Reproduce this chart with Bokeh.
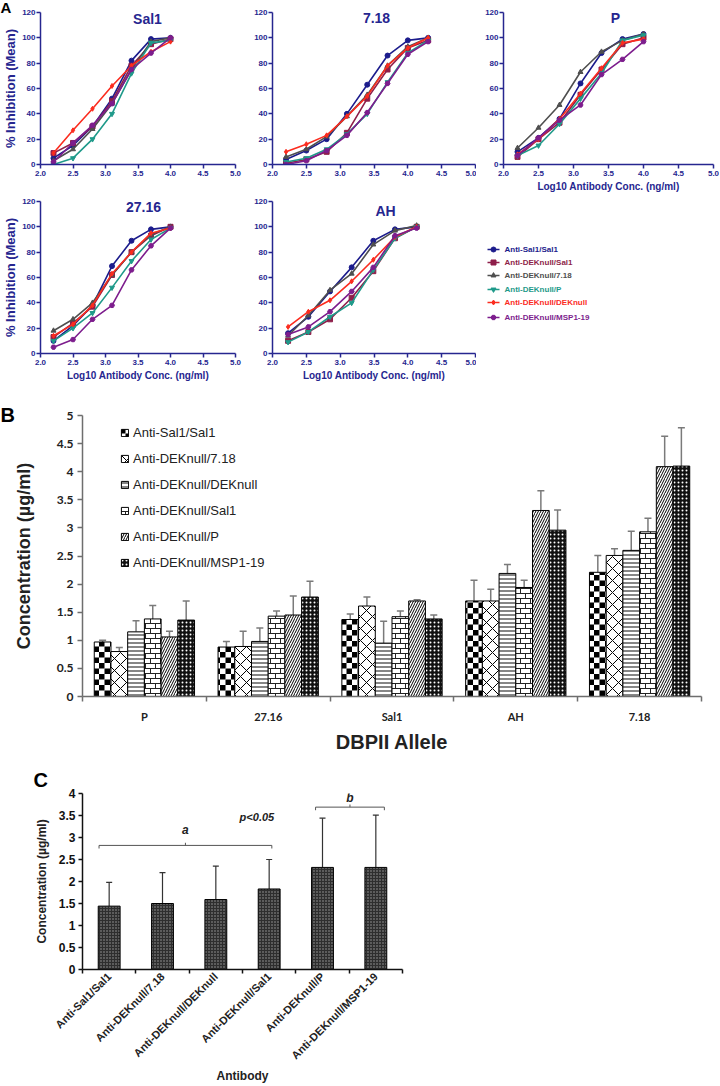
import math
from bokeh.plotting import figure
from bokeh.layouts import column, row
from bokeh.models import (LegendItem, Legend, Label, Title, LinearAxis, CategoricalAxis, FixedTicker,
                          NumeralTickFormatter, Whisker, TeeHead, ColumnDataSource, FactorRange,
                          Range1d, CanvasTexture)
from bokeh.transform import dodge
from bokeh.core.properties import value
from bokeh.embed import file_html
from bokeh.resources import INLINE

# ================= Panel A data =================
a_series = ["Anti-Sal1/Sal1", "Anti-DEKnull/Sal1", "Anti-DEKnull/7.18",
            "Anti-DEKnull/P", "Anti-DEKnull/DEKnull", "Anti-DEKnull/MSP1-19"]
log_dose = [2.2, 2.5, 2.8, 3.1, 3.4, 3.7, 4.0]
log_dose_718 = [2.2, 2.5, 2.8, 3.1, 3.4, 3.7, 4.0, 4.3]
log_dose_ah = [2.23, 2.53, 2.85, 3.17, 3.49, 3.81, 4.13]

inhibition_sal1 = [
    [5, 15, 30, 52, 82, 99, 100],
    [9, 17, 30, 50, 78, 95, 99],
    [3, 12, 28, 48, 75, 97, 100],
    [0, 5, 20, 40, 72, 96, 98],
    [9, 27, 44, 62, 78, 89, 97],
    [2, 17, 31, 48, 75, 88, 100],
]
inhibition_718 = [
    [4, 11, 20, 40, 63, 86, 98, 100],
    [1, 4, 10, 25, 52, 75, 92, 98],
    [6, 12, 22, 38, 55, 78, 93, 100],
    [2, 5, 12, 24, 40, 65, 88, 98],
    [10, 16, 23, 38, 54, 78, 92, 100],
    [0, 3, 11, 23, 41, 64, 87, 97],
]
inhibition_p = [
    [10, 21, 36, 64, 88, 99, 103],
    [6, 20, 33, 55, 75, 95, 100],
    [13, 29, 47, 73, 89, 98, 103],
    [7, 15, 32, 52, 72, 98, 102],
    [8, 20, 36, 56, 76, 96, 99],
    [7, 21, 35, 47, 71, 83, 97],
]
inhibition_2716 = [
    [10, 22, 38, 69, 89, 98, 100],
    [13, 24, 37, 62, 80, 93, 100],
    [18, 27, 40, 62, 80, 94, 100],
    [10, 20, 32, 52, 73, 90, 99],
    [14, 23, 38, 63, 80, 95, 99],
    [5, 11, 27, 38, 66, 85, 99],
]
inhibition_ah = [
    [16, 29, 49, 68, 89, 98, 100],
    [10, 17, 27, 44, 65, 91, 100],
    [14, 30, 50, 63, 86, 97, 101],
    [9, 17, 29, 40, 66, 91, 100],
    [21, 33, 42, 57, 74, 92, 100],
    [15, 21, 33, 49, 68, 93, 99],
]
a_x_ticks = [2.0, 2.5, 3.0, 3.5, 4.0, 4.5, 5.0]
a_y_ticks = [0, 20, 40, 60, 80, 100, 120]

# ================= Panel B data =================
alleles = ["P", "27.16", "Sal1", "AH", "7.18"]
b_series = ["Anti-Sal1/Sal1", "Anti-DEKnull/7.18", "Anti-DEKnull/DEKnull",
            "Anti-DEKnull/Sal1", "Anti-DEKnull/P", "Anti-DEKnull/MSP1-19"]
conc_sal1_sal1 = [0.97, 0.88, 1.37, 1.70, 2.21]
conc_dek_718 = [0.80, 0.89, 1.61, 1.70, 2.51]
conc_dek_dek = [1.15, 0.98, 0.95, 2.19, 2.60]
conc_dek_sal1 = [1.38, 1.43, 1.42, 1.94, 2.93]
conc_dek_p = [1.06, 1.45, 1.70, 3.31, 4.09]
conc_dek_msp = [1.36, 1.77, 1.38, 2.96, 4.10]
sd_sal1_sal1 = [0.03, 0.10, 0.10, 0.37, 0.30]
sd_dek_718 = [0.07, 0.27, 0.16, 0.21, 0.12]
sd_dek_dek = [0.20, 0.24, 0.39, 0.16, 0.34]
sd_dek_sal1 = [0.24, 0.09, 0.10, 0.13, 0.24]
sd_dek_p = [0.10, 0.34, 0.02, 0.35, 0.54]
sd_dek_msp = [0.34, 0.28, 0.07, 0.36, 0.68]
b_y_ticks = [0, 0.5, 1, 1.5, 2, 2.5, 3, 3.5, 4, 4.5, 5]

# ================= Panel C data =================
antibodies = ["Anti-Sal1/Sal1", "Anti-DEKnull/7.18", "Anti-DEKnull/DEKnull",
              "Anti-DEKnull/Sal1", "Anti-DEKnull/P", "Anti-DEKnull/MSP1-19"]
mean_conc = [1.44, 1.50, 1.59, 1.83, 2.32, 2.32]
sd_conc = [0.54, 0.70, 0.76, 0.67, 1.12, 1.19]
c_y_ticks = [0, 0.5, 1, 1.5, 2, 2.5, 3, 3.5, 4]

# ================= styles =================
BLUE = "#26268f"
FONT = "Liberation Sans"
a_colors = ["#1c1c8c", "#8e1f4a", "#4f4f4f", "#1f9a8a", "#fb2c1f", "#7d1d8d"]
a_markers = ["circle", "square", "triangle", "inverted_triangle", "diamond", "hex"]


def style_axis(ax, color, font, size, tick_out=4):
    ax.axis_line_color = color
    ax.axis_line_width = 1.5
    ax.major_tick_line_color = color
    ax.major_tick_line_width = 1.5
    ax.major_tick_in = 0
    ax.major_tick_out = tick_out
    ax.minor_tick_line_color = None
    ax.major_label_text_color = color
    ax.major_label_text_font = font
    ax.major_label_text_font_style = "bold"
    ax.major_label_text_font_size = size


def letter_title(text, offset, standoff=0, size="20px"):
    return Title(text=text, align="left", offset=offset, standoff=standoff, text_font=FONT,
                 text_font_style="bold", text_font_size=size, text_color="black")


def curve_panel(title, doses, curves, width, height, bl, br, bt, bb, title_xy, xlabel, ylabel=False):
    p = figure(width=width, height=height, x_range=Range1d(2.0, 5.0), y_range=Range1d(0, 120),
               output_backend="svg", toolbar_location=None,
               min_border_left=bl, min_border_right=br, min_border_top=bt, min_border_bottom=bb)
    p.outline_line_color = None
    p.xgrid.visible = False
    p.ygrid.visible = False
    p.xaxis.ticker = FixedTicker(ticks=a_x_ticks)
    p.yaxis.ticker = FixedTicker(ticks=a_y_ticks)
    p.xaxis.formatter = NumeralTickFormatter(format="0.0")
    p.yaxis.formatter = NumeralTickFormatter(format="0")
    for ax in (p.xaxis[0], p.yaxis[0]):
        style_axis(ax, BLUE, FONT, "8px")
        ax.major_label_standoff = 2
    p.yaxis.major_label_standoff = 1
    if xlabel:
        p.xaxis.axis_label = "Log10 Antibody Conc. (ng/ml)"
        p.xaxis.axis_label_text_font = FONT
        p.xaxis.axis_label_text_font_style = "bold"
        p.xaxis.axis_label_text_font_size = "10px"
        p.xaxis.axis_label_text_color = BLUE
        p.xaxis.axis_label_standoff = 2
    if ylabel:
        p.yaxis.axis_label = "% Inhibition (Mean)"
        p.yaxis.axis_label_text_font = FONT
        p.yaxis.axis_label_text_font_style = "bold"
        p.yaxis.axis_label_text_font_size = "13px"
        p.yaxis.axis_label_text_color = BLUE
        p.yaxis.axis_label_standoff = 1
    for ys, color, marker in zip(curves, a_colors, a_markers):
        p.line(doses, ys, line_color=color, line_width=1.6)
        p.scatter(doses, ys, marker=marker, size=5, fill_color=color, line_color=color)
    p.add_layout(Label(x=title_xy[0], y=title_xy[1], x_units="screen", y_units="screen",
                       text=title, text_font=FONT, text_font_style="bold", text_font_size="14px",
                       text_color=BLUE, text_align="center", text_baseline="middle"))
    return p


# row 1 (page y 0..198), row 2 (page y 198..388)
p_sal1 = curve_panel("Sal1", log_dose, inhibition_sal1, 242, 198, 40, 7, 12, 34, (107, 146), False, True)
p_sal1.add_layout(letter_title("A", -40, standoff=-7, size="15px"), "above")
p_718 = curve_panel("7.18", log_dose_718, inhibition_718, 234, 198, 30, 1, 12, 34, (104, 147), False)
p_p = curve_panel("P", log_dose, inhibition_p, 243, 198, 27, 6, 12, 34, (112, 147), True)
p_2716 = curve_panel("27.16", log_dose, inhibition_2716, 242, 190, 40, 7, 3, 35, (103, 147), True, True)
p_ah = curve_panel("AH", log_dose_ah, inhibition_ah, 234, 190, 30, 1, 3, 35, (113, 143), True)

# legend panel for A: ranges set to the page pixels of this panel's frame
p_leg = figure(width=243, height=190, x_range=Range1d(476, 719), y_range=Range1d(353, 201),
               output_backend="svg", toolbar_location=None, x_axis_location=None,
               y_axis_location=None, min_border_left=0, min_border_right=0,
               min_border_top=3, min_border_bottom=35)
p_leg.outline_line_color = None
p_leg.grid.visible = False
legend_rows = [249, 262, 275, 289, 302, 317]
leg_src = ColumnDataSource(dict(y=legend_rows, name=a_series, color=a_colors, marker=a_markers,
                                x0=[487] * 6, x1=[499] * 6, xm=[493] * 6, xt=[504] * 6))
p_leg.segment(x0="x0", x1="x1", y0="y", y1="y", line_color="color", line_width=1.5, source=leg_src)
p_leg.scatter(x="xm", y="y", marker="marker", size=5, fill_color="color", line_color="color",
              source=leg_src)
p_leg.text(x="xt", y="y", text="name", text_color="color", text_font=value(FONT),
           text_font_style="bold", text_font_size="8px", text_baseline="middle", source=leg_src)

# ================= Panel B =================
GREY = "#6e6e6e"
TXT = "#222222"
checker = CanvasTexture(repetition="repeat", code="""
const c = ctx.canvas;
c.width = 11; c.height = 11;
ctx.fillStyle = "#000000";
ctx.fillRect(0, 0, 5.5, 5.5);
ctx.fillRect(5.5, 5.5, 5.5, 5.5);
""")
bricks = CanvasTexture(repetition="repeat", code="""
const c = ctx.canvas;
c.width = 10; c.height = 10;
ctx.strokeStyle = "#222222";
ctx.lineWidth = 1;
ctx.beginPath();
ctx.moveTo(0, 0.5); ctx.lineTo(10, 0.5);
ctx.moveTo(0, 5.5); ctx.lineTo(10, 5.5);
ctx.moveTo(0.5, 0); ctx.lineTo(0.5, 5);
ctx.moveTo(5.5, 5); ctx.lineTo(5.5, 10);
ctx.stroke();
""")
b_styles = [
    dict(fill_color="white", hatch_pattern=value("checker"), hatch_color="black", hatch_scale=11,
         hatch_extra={"checker": checker}),
    dict(fill_color="white", hatch_pattern="diagonal_cross", hatch_color="black", hatch_scale=12,
         hatch_weight=1),
    dict(fill_color="white", hatch_pattern="horizontal_line", hatch_color="#333333", hatch_scale=4,
         hatch_weight=1.2),
    dict(fill_color="white", hatch_pattern=value("bricks"), hatch_color="#222222", hatch_scale=10,
         hatch_weight=1, hatch_extra={"bricks": bricks}),
    dict(fill_color="white", hatch_pattern="right_diagonal_line", hatch_color="black", hatch_scale=5,
         hatch_weight=1),
    dict(fill_color="#111111", hatch_pattern="dot", hatch_color="white", hatch_scale=4, hatch_weight=1),
]
b_concs = [conc_sal1_sal1, conc_dek_718, conc_dek_dek, conc_dek_sal1, conc_dek_p, conc_dek_msp]
b_sds = [sd_sal1_sal1, sd_dek_718, sd_dek_dek, sd_dek_sal1, sd_dek_p, sd_dek_msp]

pB = figure(width=719, height=367, x_range=FactorRange(*alleles), y_range=Range1d(0, 5),
            x_axis_location=None, output_backend="svg", toolbar_location=None,
            min_border_left=82, min_border_right=12, min_border_top=27, min_border_bottom=57)
pB.outline_line_color = None
pB.xgrid.visible = False
pB.ygrid.visible = False
pB.yaxis.ticker = FixedTicker(ticks=b_y_ticks)
pB.yaxis.formatter = NumeralTickFormatter(format="0.[0]")
style_axis(pB.yaxis[0], GREY, "Lato", "12px", tick_out=5)
pB.yaxis.major_label_text_color = TXT
pB.yaxis.major_label_standoff = 4
pB.yaxis.axis_label = "Concentration (µg/ml)"
pB.yaxis.axis_label_text_font = FONT
pB.yaxis.axis_label_text_font_style = "bold"
pB.yaxis.axis_label_text_font_size = "18px"
pB.yaxis.axis_label_text_color = TXT
pB.yaxis.axis_label_standoff = 20

nB = len(alleles)
tick_axis_b = LinearAxis(ticker=FixedTicker(ticks=list(range(nB + 1))),
                         major_label_overrides={i: "" for i in range(nB + 1)},
                         major_label_text_font_size="0px", major_label_standoff=0)
style_axis(tick_axis_b, GREY, FONT, "0px", tick_out=5)
pB.add_layout(tick_axis_b, "below")
cat_axis_b = CategoricalAxis(axis_line_color=None, major_tick_line_color=None, major_tick_out=0,
                             major_tick_in=0, major_label_standoff=8,
                             major_label_text_font="Lato", major_label_text_font_style="bold",
                             major_label_text_font_size="11px", major_label_text_color=TXT,
                             axis_label="DBPII Allele", axis_label_text_font=FONT,
                             axis_label_text_font_style="bold", axis_label_text_font_size="20px",
                             axis_label_text_color=TXT, axis_label_standoff=5)
pB.add_layout(cat_axis_b, "below")

bar_w = 0.135
legend_items_b = []
for i, (name, concs, sds, st) in enumerate(zip(b_series, b_concs, b_sds, b_styles)):
    off = (i - 2.5) * bar_w
    src = ColumnDataSource(dict(allele=alleles, conc=concs, upper=[c + s for c, s in zip(concs, sds)]))
    pB.add_layout(Whisker(source=src, base=dodge("allele", off, range=pB.x_range), lower="conc",
                          upper="upper", dimension="height", line_color="#7a7a7a", line_width=1.5,
                          upper_head=TeeHead(size=7, line_color="#7a7a7a", line_width=1.5),
                          lower_head=None))
    r = pB.vbar(x=dodge("allele", off, range=pB.x_range), top="conc", width=bar_w, source=src,
                line_color="black", line_width=1, **st)
    legend_items_b.append(LegendItem(label=name, renderers=[r]))

legB = Legend(items=legend_items_b, location=(38, 126), orientation="vertical",
              glyph_width=9, glyph_height=9, label_height=16, spacing=10, label_standoff=4,
              padding=0, margin=0, border_line_color=None, background_fill_alpha=0,
              label_text_font=FONT, label_text_font_size="13px", label_text_color=TXT)
pB.add_layout(legB)
pB.add_layout(letter_title("B", -82, standoff=-21), "above")

# ================= Panel C =================
pC = figure(width=420, height=330, x_range=FactorRange(*antibodies), y_range=Range1d(0, 4),
            x_axis_location=None, output_backend="svg", toolbar_location=None,
            min_border_left=49, min_border_right=18, min_border_top=38, min_border_bottom=113)
pC.outline_line_color = None
pC.xgrid.visible = False
pC.ygrid.visible = False
pC.yaxis.ticker = FixedTicker(ticks=c_y_ticks)
pC.yaxis.formatter = NumeralTickFormatter(format="0.[0]")
style_axis(pC.yaxis[0], "#111111", FONT, "12px", tick_out=4)
pC.yaxis.major_label_standoff = 3
pC.yaxis.axis_label = "Concentration (µg/ml)"
pC.yaxis.axis_label_text_font = FONT
pC.yaxis.axis_label_text_font_style = "bold"
pC.yaxis.axis_label_text_font_size = "12px"
pC.yaxis.axis_label_text_color = TXT
pC.yaxis.axis_label_standoff = 7

nC = len(antibodies)
tick_axis_c = LinearAxis(ticker=FixedTicker(ticks=list(range(nC + 1))),
                         major_label_overrides={i: "" for i in range(nC + 1)},
                         major_label_text_font_size="0px", major_label_standoff=0)
style_axis(tick_axis_c, "#111111", FONT, "0px", tick_out=4)
pC.add_layout(tick_axis_c, "below")
cat_axis_c = CategoricalAxis(axis_line_color=None, major_tick_line_color=None, major_tick_out=0,
                             major_tick_in=0, major_label_standoff=1,
                             major_label_orientation=math.pi / 4,
                             major_label_text_font=FONT, major_label_text_font_style="bold",
                             major_label_text_font_size="11px", major_label_text_color=TXT,
                             axis_label="Antibody", axis_label_text_font=FONT,
                             axis_label_text_font_style="bold", axis_label_text_font_size="12px",
                             axis_label_text_color=TXT, axis_label_standoff=0)
pC.add_layout(cat_axis_c, "below")

srcC = ColumnDataSource(dict(antibody=antibodies, conc=mean_conc,
                             upper=[m + s for m, s in zip(mean_conc, sd_conc)]))
pC.add_layout(Whisker(source=srcC, base="antibody", lower="conc", upper="upper",
                      dimension="height", line_color="#333333", line_width=1.2,
                      upper_head=TeeHead(size=6, line_color="#333333", line_width=1.2),
                      lower_head=None))
pC.vbar(x="antibody", top="conc", width=0.41, source=srcC, fill_color="#2e2e2e",
        line_color="black", line_width=1, hatch_pattern="dot", hatch_color="#a0a0a0",
        hatch_scale=3, hatch_weight=1)

# significance brackets (annotation positions in axis units)
brackets = [(0.31, 3.55, 2.82, "a", 3.16), (4.37, 5.66, 3.69, "b", 3.89)]
for x0, x1, y, lab, ly in brackets:
    xm = (x0 + x1) / 2
    pC.segment(x0=[x0, x0, x1, xm], y0=[y, y, y, y], x1=[x1, x0, x1, xm],
               y1=[y, y - 0.07, y - 0.07, y + 0.06], line_color="#555555", line_width=1)
    pC.add_layout(Label(x=xm, y=ly, text=lab, text_font=FONT, text_font_style="bold italic",
                        text_font_size="12px", text_color=TXT, text_align="center",
                        text_baseline="middle"))
pC.add_layout(Label(x=3.27, y=3.46, text="p<0.05", text_font=FONT, text_font_style="bold italic",
                    text_font_size="11px", text_color=TXT, text_align="center",
                    text_baseline="middle"))
pC.add_layout(letter_title("C", -49, standoff=6), "above")

layout = column(row(p_sal1, p_718, p_p), row(p_2716, p_ah, p_leg), pB, pC)
open("out.html", "w").write(file_html(layout, INLINE, "Figure"))
